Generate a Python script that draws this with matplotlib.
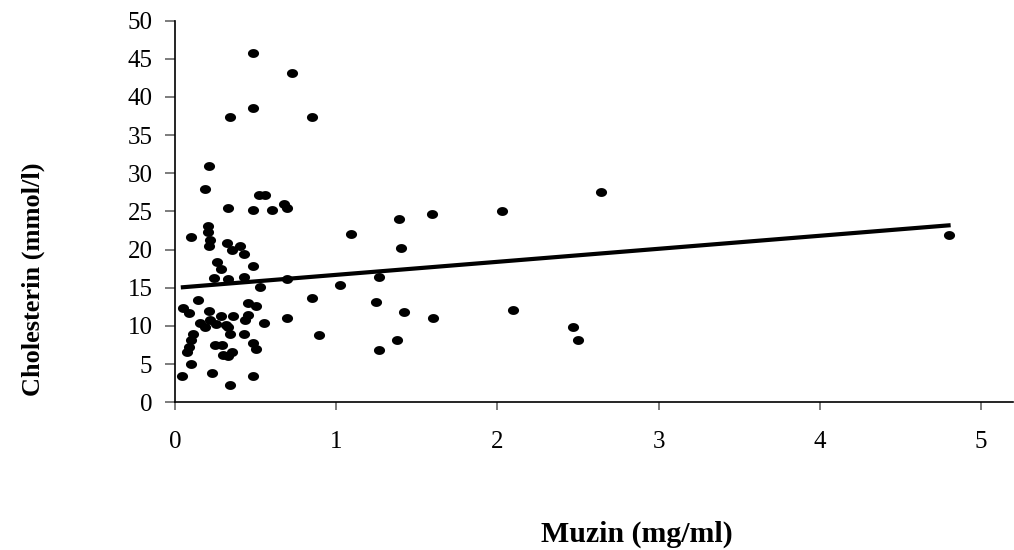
import numpy as np
import matplotlib
matplotlib.use("Agg")
import matplotlib.pyplot as plt
from matplotlib.path import Path

# Data
muzin = [0.211, 0.184, 0.325, 0.484, 0.598, 0.521, 0.557, 0.677, 0.692, 0.201,
         0.201, 0.215, 0.211, 0.097, 0.319, 0.350, 0.402, 0.426, 0.257, 0.284,
         0.484, 0.240, 0.325, 0.426, 0.526, 0.692, 0.139, 0.050, 0.085, 0.453,
         0.499, 0.211, 0.282, 0.356, 0.453, 0.433, 0.153, 0.184, 0.215, 0.253,
         0.315, 0.329, 0.552, 0.692, 0.340, 0.426, 0.108, 0.097, 0.087, 0.071,
         0.246, 0.288, 0.298, 0.350, 0.327, 0.480, 0.499, 0.097, 0.040, 0.226,
         0.480, 0.340, 0.480, 0.724, 0.480, 0.338, 0.850, 1.091, 1.390, 1.592,
         1.403, 1.263, 1.022, 0.850, 1.248, 1.420, 1.602, 0.894, 1.374, 1.263,
         2.030, 2.641, 2.098, 2.471, 2.498, 4.801]
cholesterin = [30.9, 27.9, 25.4, 25.2, 25.2, 27.1, 27.1, 26.0, 25.4, 23.1,
               22.3, 21.2, 20.5, 21.6, 20.8, 20.0, 20.5, 19.4, 18.4, 17.4,
               17.8, 16.3, 16.2, 16.4, 15.1, 16.2, 13.4, 12.4, 11.7, 13.0,
               12.6, 11.9, 11.3, 11.3, 11.5, 10.8, 10.4, 9.9, 10.8, 10.3,
               10.1, 9.9, 10.4, 11.0, 9.0, 9.0, 9.0, 8.2, 7.3, 6.6,
               7.5, 7.5, 6.2, 6.6, 6.1, 7.8, 7.0, 5.0, 3.4, 3.9,
               3.4, 2.3, 45.8, 43.1, 38.5, 37.4, 37.4, 22.1, 24.0, 24.6,
               20.2, 16.4, 15.4, 13.7, 13.2, 11.8, 11.0, 8.8, 8.2, 6.8,
               25.1, 27.6, 12.1, 9.9, 8.2, 21.9]
trend_intercept = 14.99
trend_slope = 1.705

x_ticks = [0, 1, 2, 3, 4, 5]
y_ticks = [0, 5, 10, 15, 20, 25, 30, 35, 40, 45, 50]

plt.rcParams['font.family'] = ['Liberation Serif', 'DejaVu Serif']

fig = plt.figure(figsize=(10.14, 5.5), dpi=100)
ax = fig.add_axes([0.1729, 0.2685, 0.8261, 0.6942])

# elliptical marker (wider than tall)
t = np.linspace(0, 2 * np.pi, 60)
ell = Path(np.column_stack([np.cos(t), 0.8 * np.sin(t)]), closed=True)

ax.plot(muzin, cholesterin, linestyle='none', marker=ell, markersize=8.0,
        color='black', markeredgewidth=0, zorder=3)

tx = np.array([min(muzin) - 0.006, max(muzin) + 0.012])
ax.plot(tx, trend_intercept + trend_slope * tx, color='black', linewidth=3,
        solid_capstyle='butt', zorder=2)

ax.set_xlim(0, 5.2)
ax.set_ylim(0, 50)
ax.set_xticks(x_ticks)
ax.set_yticks(y_ticks)
ax.set_xticklabels([str(v) for v in x_ticks])
ax.set_yticklabels([str(v) for v in y_ticks])

for s in ['top', 'right']:
    ax.spines[s].set_visible(False)
for s in ['left', 'bottom']:
    ax.spines[s].set_linewidth(1.2)
    ax.spines[s].set_color('black')

ax.tick_params(axis='y', direction='out', length=7.5, width=1.2, color='#666666',
               labelsize=18, pad=9)
ax.tick_params(axis='x', direction='out', length=6, width=1.2, color='#666666',
               labelsize=18, pad=15)

fig.text(0.628, 0.0151, 'Muzin (mg/ml)', ha='center', va='baseline',
         fontsize=21.5, fontweight='bold')
fig.text(0.0325, 0.4927, 'Cholesterin (mmol/l)', ha='center', va='center',
         rotation=90, fontsize=19, fontweight='bold')

fig.savefig('out.png', dpi=100)
